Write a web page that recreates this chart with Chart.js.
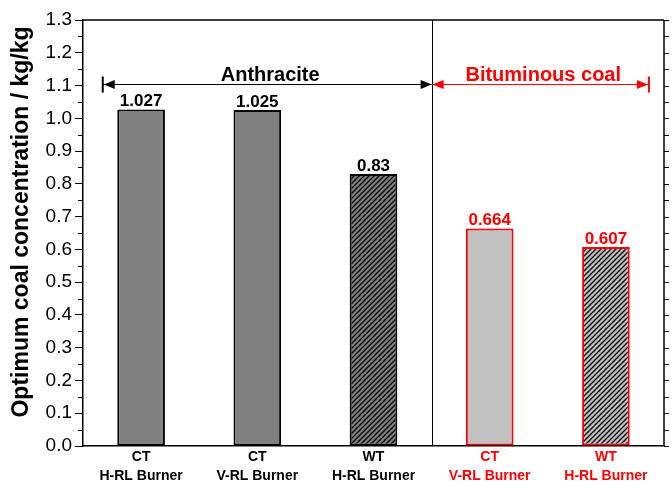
<!DOCTYPE html>
<html><head><meta charset="utf-8">
<script src="https://cdn.jsdelivr.net/npm/chart.js@4/dist/chart.umd.min.js"></script>
<style>html,body{margin:0;padding:0;background:#fff}</style>
</head><body>
<canvas id="c" width="672" height="481"></canvas>
<script>
// ---- data ----
const categories = [["CT","H-RL Burner"],["CT","V-RL Burner"],["WT","H-RL Burner"],["CT","V-RL Burner"],["WT","H-RL Burner"]];
const values = [1.027, 1.025, 0.83, 0.664, 0.607];
const valueLabels = ["1.027", "1.025", "0.83", "0.664", "0.607"];
const coalGroup = ["Anthracite","Anthracite","Anthracite","Bituminous coal","Bituminous coal"];
const yTickValues = [0,0.1,0.2,0.3,0.4,0.5,0.6,0.7,0.8,0.9,1.0,1.1,1.2,1.3];
const yTitle = "Optimum coal concentration / kg/kg";
const groupNames = ["Anthracite", "Bituminous coal"];

// ---- styles ----
const FONT = "'Liberation Sans', Arial, sans-serif";
const isBit = coalGroup.map(g => g === "Bituminous coal");
const isWT = categories.map(c => c[0] === "WT");
function hatch(bg){
  const s = 5, c = document.createElement('canvas'); c.width = s; c.height = s;
  const x = c.getContext('2d'); x.fillStyle = bg; x.fillRect(0,0,s,s);
  x.strokeStyle = '#000'; x.lineWidth = 1.3;
  x.beginPath();
  x.moveTo(-1,s+1); x.lineTo(s+1,-1);
  x.moveTo(-1,1); x.lineTo(1,-1);
  x.moveTo(s-1,s+1); x.lineTo(s+1,s-1);
  x.stroke();
  return x.createPattern(c,'repeat');
}
const baseCol = isBit.map(b => b ? '#c0c0c0' : '#808080');
const fills = baseCol.map((c,i) => isWT[i] ? hatch(c) : c);
const borders = isBit.map(b => b ? '#ff0000' : '#000000');
const textCols = isBit.map(b => b ? '#ff0000' : '#000000');

// group annotation spans (category-index coordinates)
const groupSpans = [
  {from: -0.33, to: 2.5, color: '#000000'},
  {from: 2.5, to: 4.37, color: '#ff0000'}
];
const arrowLevel = 1.105;

const deco = {
  id: 'deco',
  afterDraw(chart){
    const ctx = chart.ctx, a = chart.chartArea, xs = chart.scales.x, ys = chart.scales.y;
    ctx.save();
    ctx.strokeStyle = '#000'; ctx.lineWidth = 1.5;
    ctx.beginPath();
    ctx.moveTo(a.left, a.top); ctx.lineTo(a.right, a.top);
    ctx.moveTo(a.right, a.top); ctx.lineTo(a.right, a.bottom);
    ctx.stroke();
    // minor / right ticks
    ctx.lineWidth = 1;
    ctx.beginPath();
    for (let k = 0; k <= 26; k++){
      const py = Math.round(ys.getPixelForValue(k*0.05)) + 0.5;
      if (k % 2 === 1){ ctx.moveTo(a.left - 5, py); ctx.lineTo(a.left, py); }
      ctx.moveTo(a.right, py); ctx.lineTo(a.right + 5, py);
    }
    ctx.stroke();
    // divider
    const dx = Math.round(xs.getPixelForValue(2.5)) + 0.5;
    ctx.beginPath(); ctx.moveTo(dx, a.top); ctx.lineTo(dx, a.bottom); ctx.stroke();

    // arrows
    const ay = Math.round(ys.getPixelForValue(arrowLevel)) + 0.5;
    function head(x, dir, col){
      ctx.fillStyle = col;
      ctx.beginPath(); ctx.moveTo(x, ay); ctx.lineTo(x - dir*11, ay - 4.5); ctx.lineTo(x - dir*11, ay + 4.5); ctx.closePath(); ctx.fill();
    }
    groupSpans.forEach((g, i) => {
      const x1 = xs.getPixelForValue(g.from), x2 = xs.getPixelForValue(g.to);
      ctx.strokeStyle = g.color; ctx.lineWidth = 1.2;
      ctx.beginPath(); ctx.moveTo(x1, ay); ctx.lineTo(x2, ay); ctx.stroke();
      ctx.lineWidth = 2;
      if (i === 0){
        ctx.beginPath(); ctx.moveTo(x1, ay - 8); ctx.lineTo(x1, ay + 8); ctx.stroke();
        head(x1 + 1, -1, g.color); head(x2, 1, g.color);
      } else {
        ctx.beginPath(); ctx.moveTo(x2, ay - 8); ctx.lineTo(x2, ay + 8); ctx.stroke();
        head(x1 + 1, -1, g.color); head(x2 - 1, 1, g.color);
      }
      ctx.fillStyle = g.color;
      ctx.font = "bold 20px " + FONT;
      ctx.textAlign = 'center'; ctx.textBaseline = 'alphabetic';
      ctx.fillText(groupNames[i], (x1 + x2)/2 + 3, ay - 4);
    });

    // value labels
    const meta = chart.getDatasetMeta(0);
    ctx.font = "bold 17px " + FONT;
    ctx.textAlign = 'center'; ctx.textBaseline = 'alphabetic';
    meta.data.forEach((bar, i) => {
      ctx.fillStyle = textCols[i];
      ctx.fillText(valueLabels[i], bar.x, bar.y - 3);
    });

    // y title
    ctx.save();
    ctx.translate(22, (a.top + a.bottom)/2 - 11);
    ctx.rotate(-Math.PI/2);
    ctx.fillStyle = '#000';
    ctx.font = "bold 23px " + FONT;
    ctx.textAlign = 'center'; ctx.textBaseline = 'middle';
    ctx.fillText(yTitle, 0, 0);
    ctx.restore();
    ctx.restore();
  }
};

new Chart(document.getElementById('c'), {
  type: 'bar',
  data: {
    labels: categories,
    datasets: [{
      data: values,
      backgroundColor: fills,
      borderColor: borders,
      borderWidth: 2,
      borderSkipped: false,
      barPercentage: 0.41,
      categoryPercentage: 1.0
    }]
  },
  options: {
    responsive: false,
    animation: false,
    devicePixelRatio: 1,
    layout: {padding: {left: 0, right: 8, top: 20, bottom: 0}},
    plugins: {legend: {display: false}, tooltip: {enabled: false}},
    scales: {
      x: {
        type: 'category',
        offset: true,
        grid: {display: true, drawOnChartArea: false, drawTicks: false, color: 'rgba(0,0,0,0)'},
        border: {display: true, color: '#000', width: 1.5},
        ticks: {
          font: {family: FONT, size: 14, weight: 'bold', lineHeight: 1.38},
          color: ctx => textCols[ctx.index],
          padding: 1, maxRotation: 0, autoSkip: false
        },
        afterFit: s => { s.height = 35; }
      },
      y: {
        min: 0, max: 1.3,
        afterBuildTicks: s => { s.ticks = yTickValues.map(v => ({value: v})); },
        ticks: {
          font: {family: FONT, size: 19},
          color: '#000',
          padding: 3,
          callback: v => Number(v).toFixed(1)
        },
        grid: {drawOnChartArea: false, tickLength: 8, color: '#000', lineWidth: 1},
        border: {display: true, color: '#000', width: 1.5},
        afterFit: s => { s.width = 83; }
      }
    }
  },
  plugins: [deco]
});
</script>
</body></html>
